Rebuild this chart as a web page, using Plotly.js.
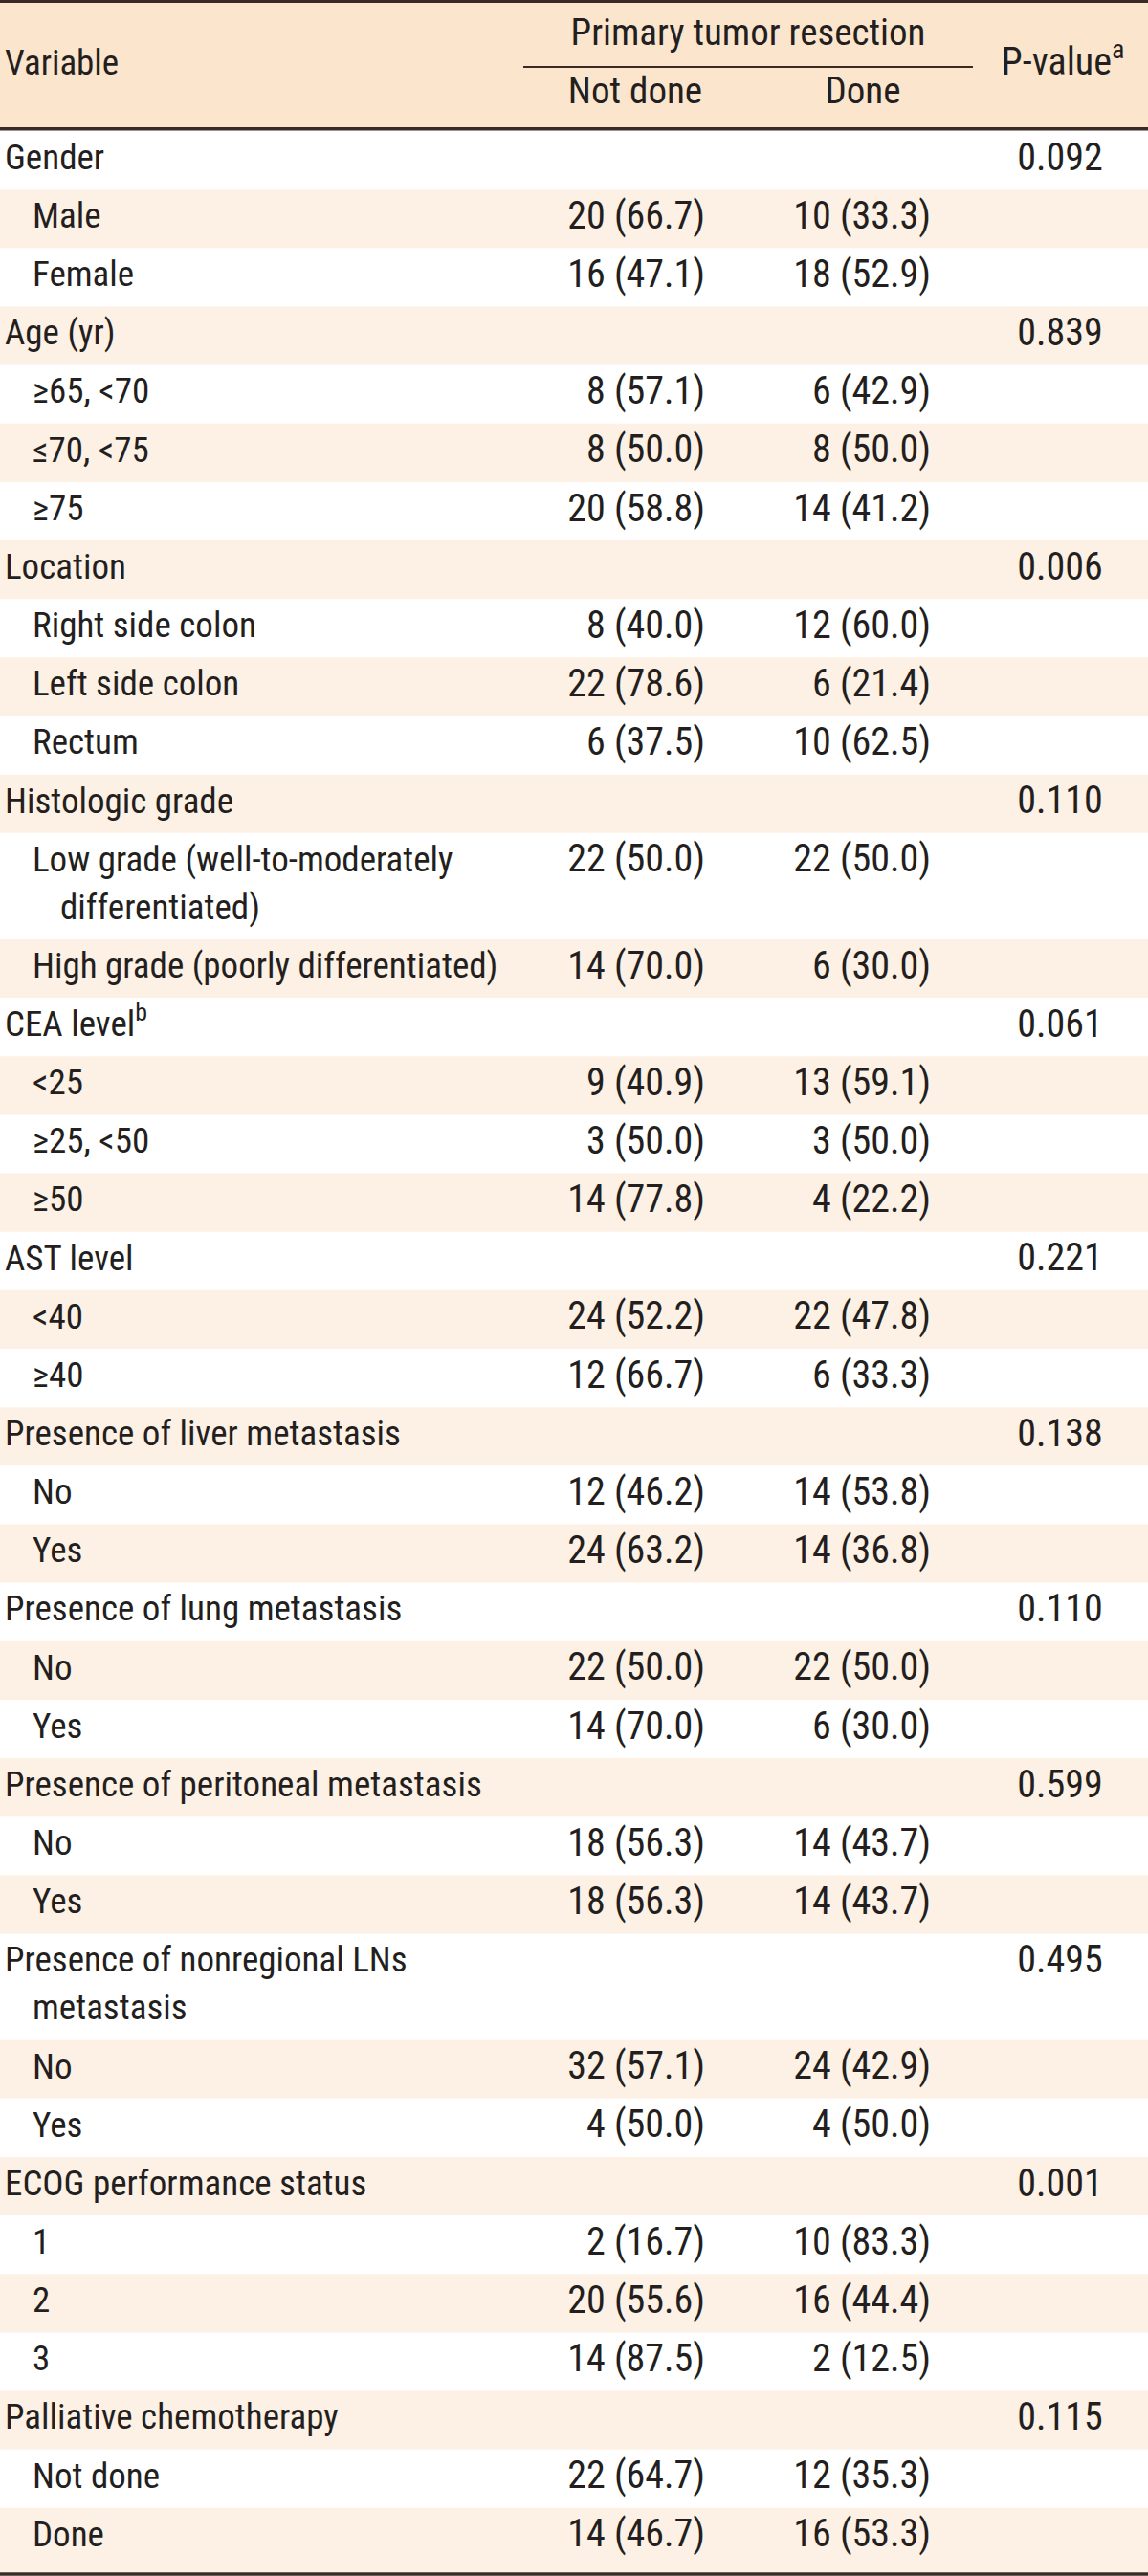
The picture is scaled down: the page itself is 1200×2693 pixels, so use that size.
<!DOCTYPE html>
<html>
<head>
<meta charset="utf-8">
<script src="https://cdn.plot.ly/plotly-3.0.1.min.js"></script>
<style>html,body{margin:0;padding:0;background:#fff;} #chart{width:1200px;height:2693px;}</style>
</head>
<body>
<div id="chart"></div>
<script>
// ---------- data ----------
const headerGroup = "Primary tumor resection";
const columnHeaders = ["Variable", "Not done", "Done", "P-value<sup>a</sup>"];

const variables = [
  "Gender", "Male", "Female",
  "Age (yr)", "≥65, &lt;70", "≤70, &lt;75", "≥75",
  "Location", "Right side colon", "Left side colon", "Rectum",
  "Histologic grade", "Low grade (well-to-moderately|differentiated)", "High grade (poorly differentiated)",
  "CEA level<sup>b</sup>", "&lt;25", "≥25, &lt;50", "≥50",
  "AST level", "&lt;40", "≥40",
  "Presence of liver metastasis", "No", "Yes",
  "Presence of lung metastasis", "No", "Yes",
  "Presence of peritoneal metastasis", "No", "Yes",
  "Presence of nonregional LNs|metastasis", "No", "Yes",
  "ECOG performance status", "1", "2", "3",
  "Palliative chemotherapy", "Not done", "Done"
];
const levels = [
  0,1,1, 0,1,1,1, 0,1,1,1, 0,1,1, 0,1,1,1, 0,1,1, 0,1,1, 0,1,1, 0,1,1, 0,1,1, 0,1,1,1, 0,1,1
];
const notDone = [
  "", "20 (66.7)", "16 (47.1)",
  "", "8 (57.1)", "8 (50.0)", "20 (58.8)",
  "", "8 (40.0)", "22 (78.6)", "6 (37.5)",
  "", "22 (50.0)", "14 (70.0)",
  "", "9 (40.9)", "3 (50.0)", "14 (77.8)",
  "", "24 (52.2)", "12 (66.7)",
  "", "12 (46.2)", "24 (63.2)",
  "", "22 (50.0)", "14 (70.0)",
  "", "18 (56.3)", "18 (56.3)",
  "", "32 (57.1)", "4 (50.0)",
  "", "2 (16.7)", "20 (55.6)", "14 (87.5)",
  "", "22 (64.7)", "14 (46.7)"
];
const done = [
  "", "10 (33.3)", "18 (52.9)",
  "", "6 (42.9)", "8 (50.0)", "14 (41.2)",
  "", "12 (60.0)", "6 (21.4)", "10 (62.5)",
  "", "22 (50.0)", "6 (30.0)",
  "", "13 (59.1)", "3 (50.0)", "4 (22.2)",
  "", "22 (47.8)", "6 (33.3)",
  "", "14 (53.8)", "14 (36.8)",
  "", "22 (50.0)", "6 (30.0)",
  "", "14 (43.7)", "14 (43.7)",
  "", "24 (42.9)", "4 (50.0)",
  "", "10 (83.3)", "16 (44.4)", "2 (12.5)",
  "", "12 (35.3)", "16 (53.3)"
];
const pValues = [
  "0.092", "", "",
  "0.839", "", "", "",
  "0.006", "", "", "",
  "0.110", "", "",
  "0.061", "", "", "",
  "0.221", "", "",
  "0.138", "", "",
  "0.110", "", "",
  "0.599", "", "",
  "0.495", "", "",
  "0.001", "", "", "",
  "0.115", "", ""
];

// ---------- layout constants ----------
const W = 1200, H = 2693;
const FONT = '"Liberation Sans Narrow", "Arial Narrow", "Roboto Condensed", "DejaVu Sans Condensed", sans-serif';
const FS_LABEL = 37, FS_NUM = 40, FS_HEAD = 39;
const TXT = "#231f20";
const LINE = "#3a2c24";
const HEAD_BG = "#fce5cd";
const STRIPE = "#fdf0e4";
const bodyTop = 137;
const rowH = 61.15, linePitch = 50, firstLine = 30.6, lastExtra = 6;
const xMain = 5, xSub = 34, xWrap = 29;
const xNotDone = 737, xDone = 973, xP = 1108;

// row geometry
const lines = variables.map(v => v.split("|"));
const tops = [];
const heights = [];
let y = bodyTop;
lines.forEach((ls, i) => {
  let h = rowH + (ls.length - 1) * linePitch;
  if (i === lines.length - 1) h += lastExtra;
  tops.push(y); heights.push(h); y += h;
});
const bodyBottom = y;

const shapes = [];
shapes.push({type:"rect", xref:"x", yref:"y", x0:0, x1:W, y0:3, y1:133, fillcolor:HEAD_BG, line:{width:0}, layer:"below"});
tops.forEach((t, i) => {
  if (i % 2 === 1) shapes.push({type:"rect", xref:"x", yref:"y", x0:0, x1:W, y0:t, y1:t + heights[i], fillcolor:STRIPE, line:{width:0}, layer:"below"});
});
shapes.push({type:"line", xref:"x", yref:"y", x0:0, x1:W, y0:1.5, y1:1.5, line:{color:LINE, width:3}});
shapes.push({type:"line", xref:"x", yref:"y", x0:0, x1:W, y0:134.8, y1:134.8, line:{color:LINE, width:3.6}});
shapes.push({type:"line", xref:"x", yref:"y", x0:0, x1:W, y0:bodyBottom + 2, y1:bodyBottom + 2, line:{color:LINE, width:3.6}});
shapes.push({type:"line", xref:"x", yref:"y", x0:547, x1:1017, y0:70, y1:70, line:{color:LINE, width:2.2}});

// label points
const lx = [], ly = [], lt = [];
lines.forEach((ls, i) => {
  ls.forEach((s, k) => {
    lx.push((levels[i] ? xSub : xMain) + (k ? xWrap : 0));
    ly.push(tops[i] + firstLine + k * linePitch);
    lt.push(s);
  });
});

// value columns: only rows that hold a value
function column(values, xPos) {
  const xs = [], ys = [], ts = [];
  values.forEach((v, i) => {
    if (v !== "") { xs.push(xPos); ys.push(tops[i] + firstLine); ts.push(v); }
  });
  return {xs, ys, ts};
}
const cND = column(notDone, xNotDone);
const cD = column(done, xDone);
const cP = column(pValues, xP);

const fLabel = {family: FONT, size: FS_LABEL, color: TXT};
const fNum = {family: FONT, size: FS_NUM, color: TXT};
const fHead = {family: FONT, size: FS_HEAD, color: TXT};
const base = {type:"scatter", mode:"text", hoverinfo:"skip", showlegend:false, cliponaxis:false};

const traces = [
  Object.assign({}, base, {x:lx, y:ly, text:lt, textposition:"middle right", textfont:fLabel}),
  Object.assign({}, base, {x:cND.xs, y:cND.ys, text:cND.ts, textposition:"middle left", textfont:fNum}),
  Object.assign({}, base, {x:cD.xs, y:cD.ys, text:cD.ts, textposition:"middle left", textfont:fNum}),
  Object.assign({}, base, {x:cP.xs, y:cP.ys, text:cP.ts, textposition:"middle center", textfont:fNum}),
  Object.assign({}, base, {x:[xMain], y:[69], text:[columnHeaders[0]], textposition:"middle right", textfont:fLabel}),
  Object.assign({}, base, {x:[782], y:[37], text:[headerGroup], textposition:"middle center", textfont:fHead}),
  Object.assign({}, base, {x:[664, 902], y:[98, 98], text:[columnHeaders[1], columnHeaders[2]], textposition:"middle center", textfont:fHead}),
  Object.assign({}, base, {x:[1111], y:[68], text:[columnHeaders[3]], textposition:"middle center", textfont:fNum})
];

const layout = {
  width: W, height: H,
  margin: {l:0, r:0, t:0, b:0, pad:0},
  paper_bgcolor: "#ffffff", plot_bgcolor: "#ffffff",
  xaxis: {range:[0, W], visible:false, fixedrange:true},
  yaxis: {range:[H, 0], visible:false, fixedrange:true},
  shapes: shapes,
  showlegend: false,
  hovermode: false
};

Plotly.newPlot("chart", traces, layout, {staticPlot:true, displayModeBar:false});
</script>
</body>
</html>
